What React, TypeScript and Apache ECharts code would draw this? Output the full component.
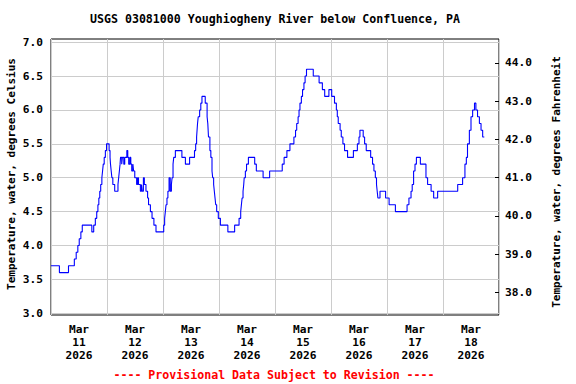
import React, { useEffect, useRef } from "react";
import * as echarts from "echarts";

const TITLE = "USGS 03081000 Youghiogheny River below Confluence, PA";
const LEFT_NAME = "Temperature, water, degrees Celsius";
const RIGHT_NAME = "Temperature, water, degrees Fahrenheit";
const FOOTER = "---- Provisional Data Subject to Revision ----";

const DAY_LABELS = [
  "Mar\n11\n2026",
  "Mar\n12\n2026",
  "Mar\n13\n2026",
  "Mar\n14\n2026",
  "Mar\n15\n2026",
  "Mar\n16\n2026",
  "Mar\n17\n2026",
  "Mar\n18\n2026",
];
const DAY_LABEL_HOURS = [12, 36, 60, 84, 108, 132, 156, 180];
const DAY_BOUNDARY_HOURS = [0, 24, 48, 72, 96, 120, 144, 168, 192];
const CELSIUS_TICKS = [3.0, 3.5, 4.0, 4.5, 5.0, 5.5, 6.0, 6.5, 7.0];
const FAHRENHEIT_TICKS = [38, 39, 40, 41, 42, 43, 44];

// hours since 2026-03-11 00:00 at which the reading changes
const CHANGE_HOURS = [
  0, 3.6, 7.5, 10.0, 10.8, 11.5, 12.1, 12.8, 13.4, 17.5, 18.3, 19.0, 19.6, 20.1, 20.5, 20.9,
  21.3, 21.8, 22.1, 22.4, 22.8, 23.3, 23.8, 24.9, 25.3, 25.5, 25.8, 26.1, 26.5, 27.3, 28.7,
  29.0, 29.3, 29.6, 29.8, 30.3, 30.6, 31.2, 31.6, 32.5, 32.9, 33.3, 33.8, 34.2, 34.6, 35.1,
  35.4, 35.9, 36.7, 37.1, 37.5, 38.3, 38.8, 39.1, 39.6, 40.0, 40.7, 41.4, 41.8, 42.6, 43.3,
  44.1, 45.0, 48.3, 48.7, 49.0, 49.3, 49.7, 50.1, 50.6, 51.1, 51.6, 51.9, 52.3, 52.6, 53.3,
  56.1, 57.6, 59.4, 61.5, 62.0, 62.4, 62.6, 62.8, 63.1, 63.7, 64.2, 64.7, 66.1, 66.9, 67.2,
  67.5, 68.1, 68.5, 69.0, 69.3, 69.7, 70.0, 70.3, 70.6, 71.0, 71.7, 72.6, 75.8, 78.7, 80.6,
  81.3, 81.6, 81.9, 82.3, 82.6, 82.8, 83.3, 83.8, 84.6, 87.3, 88.0, 90.9, 93.7, 99.1, 99.9,
  101.1, 102.4, 104.1, 104.8, 105.3, 105.9, 106.3, 106.7, 107.3, 107.8, 108.4, 108.9, 109.5,
  112.4, 114.9, 116.3, 117.3, 119.1, 120.3, 121.5, 122.3, 122.7, 123.1, 123.9, 124.4, 125.1,
  125.8, 127.1, 129.6, 131.3, 132.0, 132.4, 133.8, 134.4, 135.1, 137.0, 137.8, 138.4, 139.0,
  139.5, 139.8, 140.1, 141.0, 143.4, 144.9, 147.6, 152.6, 153.4, 154.3, 154.8, 155.4, 156.0,
  156.6, 158.3, 160.7, 161.4, 162.9, 164.0, 165.7, 174.3, 176.4, 177.4, 178.0, 178.5, 179.3,
  180.0, 180.7, 181.5, 182.1, 182.8, 183.6, 184.3, 185.0, 185.7,
];
const TEMPS_C = [
  3.7, 3.6, 3.7, 3.8, 3.9, 4.0, 4.1, 4.2, 4.3, 4.2, 4.3, 4.4, 4.5, 4.6, 4.7, 4.8,
  4.9, 5.0, 5.1, 5.2, 5.3, 5.4, 5.5, 5.4, 5.3, 5.2, 5.1, 5.0, 4.9, 4.8, 4.9,
  5.0, 5.1, 5.2, 5.3, 5.2, 5.3, 5.2, 5.3, 5.4, 5.3, 5.2, 5.3, 5.2, 5.1, 5.2,
  5.1, 5.0, 4.9, 5.0, 4.9, 4.8, 4.9, 4.8, 5.0, 4.9, 4.8, 4.7, 4.6, 4.5, 4.4,
  4.3, 4.2, 4.3, 4.4, 4.5, 4.6, 4.7, 4.8, 5.0, 4.8, 4.9, 5.0, 5.2, 5.3, 5.4,
  5.3, 5.2, 5.3, 5.4, 5.5, 5.6, 5.7, 5.8, 5.9, 6.0, 6.1, 6.2, 6.1, 5.9, 5.8,
  5.6, 5.4, 5.3, 5.1, 5.0, 4.9, 4.8, 4.7, 4.6, 4.5, 4.4, 4.3, 4.2, 4.3, 4.4,
  4.5, 4.6, 4.7, 4.8, 4.9, 5.0, 5.1, 5.2, 5.3, 5.2, 5.1, 5.0, 5.1, 5.2, 5.3,
  5.4, 5.5, 5.6, 5.7, 5.8, 5.9, 6.0, 6.1, 6.2, 6.3, 6.4, 6.5, 6.6,
  6.5, 6.4, 6.3, 6.2, 6.3, 6.2, 6.1, 6.0, 5.9, 5.8, 5.7, 5.6, 5.5,
  5.4, 5.3, 5.4, 5.5, 5.6, 5.7, 5.6, 5.5, 5.4, 5.3, 5.2, 5.1, 5.0,
  4.9, 4.8, 4.7, 4.8, 4.7, 4.6, 4.5, 4.6, 4.7, 4.8, 4.9, 5.1, 5.2,
  5.3, 5.2, 5.0, 4.9, 4.8, 4.7, 4.8, 4.9, 5.0, 5.2, 5.3, 5.5, 5.7,
  5.9, 6.0, 6.1, 6.0, 5.9, 5.8, 5.7, 5.6, 5.6,
];

const FONT = "'DejaVu Sans Mono', monospace";

export default function App() {
  const ref = useRef<HTMLDivElement | null>(null);

  useEffect(() => {
    if (!ref.current) return;
    const chart = echarts.init(ref.current, undefined, { renderer: "svg" });
    const data = CHANGE_HOURS.map((h, i) => [h, TEMPS_C[i]]);
    const gridColor = "#cccccc";

    chart.setOption({
      animation: false,
      backgroundColor: "#ffffff",
      grid: {
        left: 51,
        right: 77,
        top: 39,
        bottom: 69,
        show: true,
        borderColor: "#000000",
        borderWidth: 1,
        backgroundColor: "transparent",
      },
      xAxis: {
        type: "value",
        min: 0,
        max: 192,
        interval: 24,
        axisLine: { show: false },
        axisTick: { show: false, customValues: DAY_BOUNDARY_HOURS },
        splitLine: { show: true, lineStyle: { color: gridColor, width: 1 } },
        axisLabel: {
          customValues: DAY_LABEL_HOURS,
          formatter: (v: number) => DAY_LABELS[Math.round((v - 12) / 24)] ?? "",
          margin: 8,
          lineHeight: 13,
          fontFamily: FONT,
          fontWeight: "bold",
          fontSize: 11.2,
          color: "#000000",
          align: "center",
        },
      },
      yAxis: [
        {
          type: "value",
          position: "left",
          min: 2.974,
          max: 7.047,
          axisLine: { show: false },
          axisTick: { show: false, customValues: CELSIUS_TICKS },
          splitLine: { show: true, lineStyle: { color: gridColor, width: 1 } },
          axisLabel: {
            customValues: CELSIUS_TICKS,
            formatter: (v: number) => v.toFixed(1),
            margin: 8,
            fontFamily: FONT,
            fontWeight: "bold",
            fontSize: 11.2,
            color: "#000000",
          },
        },
        {
          type: "value",
          position: "right",
          min: 37.413,
          max: 44.623,
          axisLine: { show: false },
          axisTick: {
            show: true,
            inside: true,
            length: 4,
            customValues: FAHRENHEIT_TICKS,
            lineStyle: { color: "#000000", width: 1 },
          },
          splitLine: { show: false },
          axisLabel: {
            customValues: FAHRENHEIT_TICKS,
            formatter: (v: number) => v.toFixed(1),
            margin: 6,
            fontFamily: FONT,
            fontWeight: "bold",
            fontSize: 11.2,
            color: "#000000",
          },
        },
      ],
      series: [
        {
          type: "line",
          step: "end",
          yAxisIndex: 0,
          data,
          showSymbol: false,
          symbol: "none",
          lineStyle: { color: "#0000ff", width: 1.1 },
          z: 3,
        },
      ],
      graphic: [
        {
          type: "text",
          x: 275,
          y: 19,
          style: {
            text: TITLE,
            align: "center",
            verticalAlign: "middle",
            font: `bold 11.6px ${FONT}`,
            fill: "#000000",
          },
        },
        {
          type: "text",
          x: 11,
          y: 174,
          rotation: Math.PI / 2,
          style: {
            text: LEFT_NAME,
            align: "center",
            verticalAlign: "middle",
            font: `bold 11px ${FONT}`,
            fill: "#000000",
          },
        },
        {
          type: "text",
          x: 556,
          y: 182,
          rotation: Math.PI / 2,
          style: {
            text: RIGHT_NAME,
            align: "center",
            verticalAlign: "middle",
            font: `bold 11px ${FONT}`,
            fill: "#000000",
          },
        },
        {
          type: "text",
          x: 274,
          y: 375,
          style: {
            text: FOOTER,
            align: "center",
            verticalAlign: "middle",
            font: `bold 11.6px ${FONT}`,
            fill: "#ff0000",
          },
        },
      ],
    });

    return () => {
      chart.dispose();
    };
  }, []);

  return (
    <div
      ref={ref}
      style={{ position: "fixed", left: 0, top: 0, width: 576, height: 384, background: "#ffffff" }}
    />
  );
}
